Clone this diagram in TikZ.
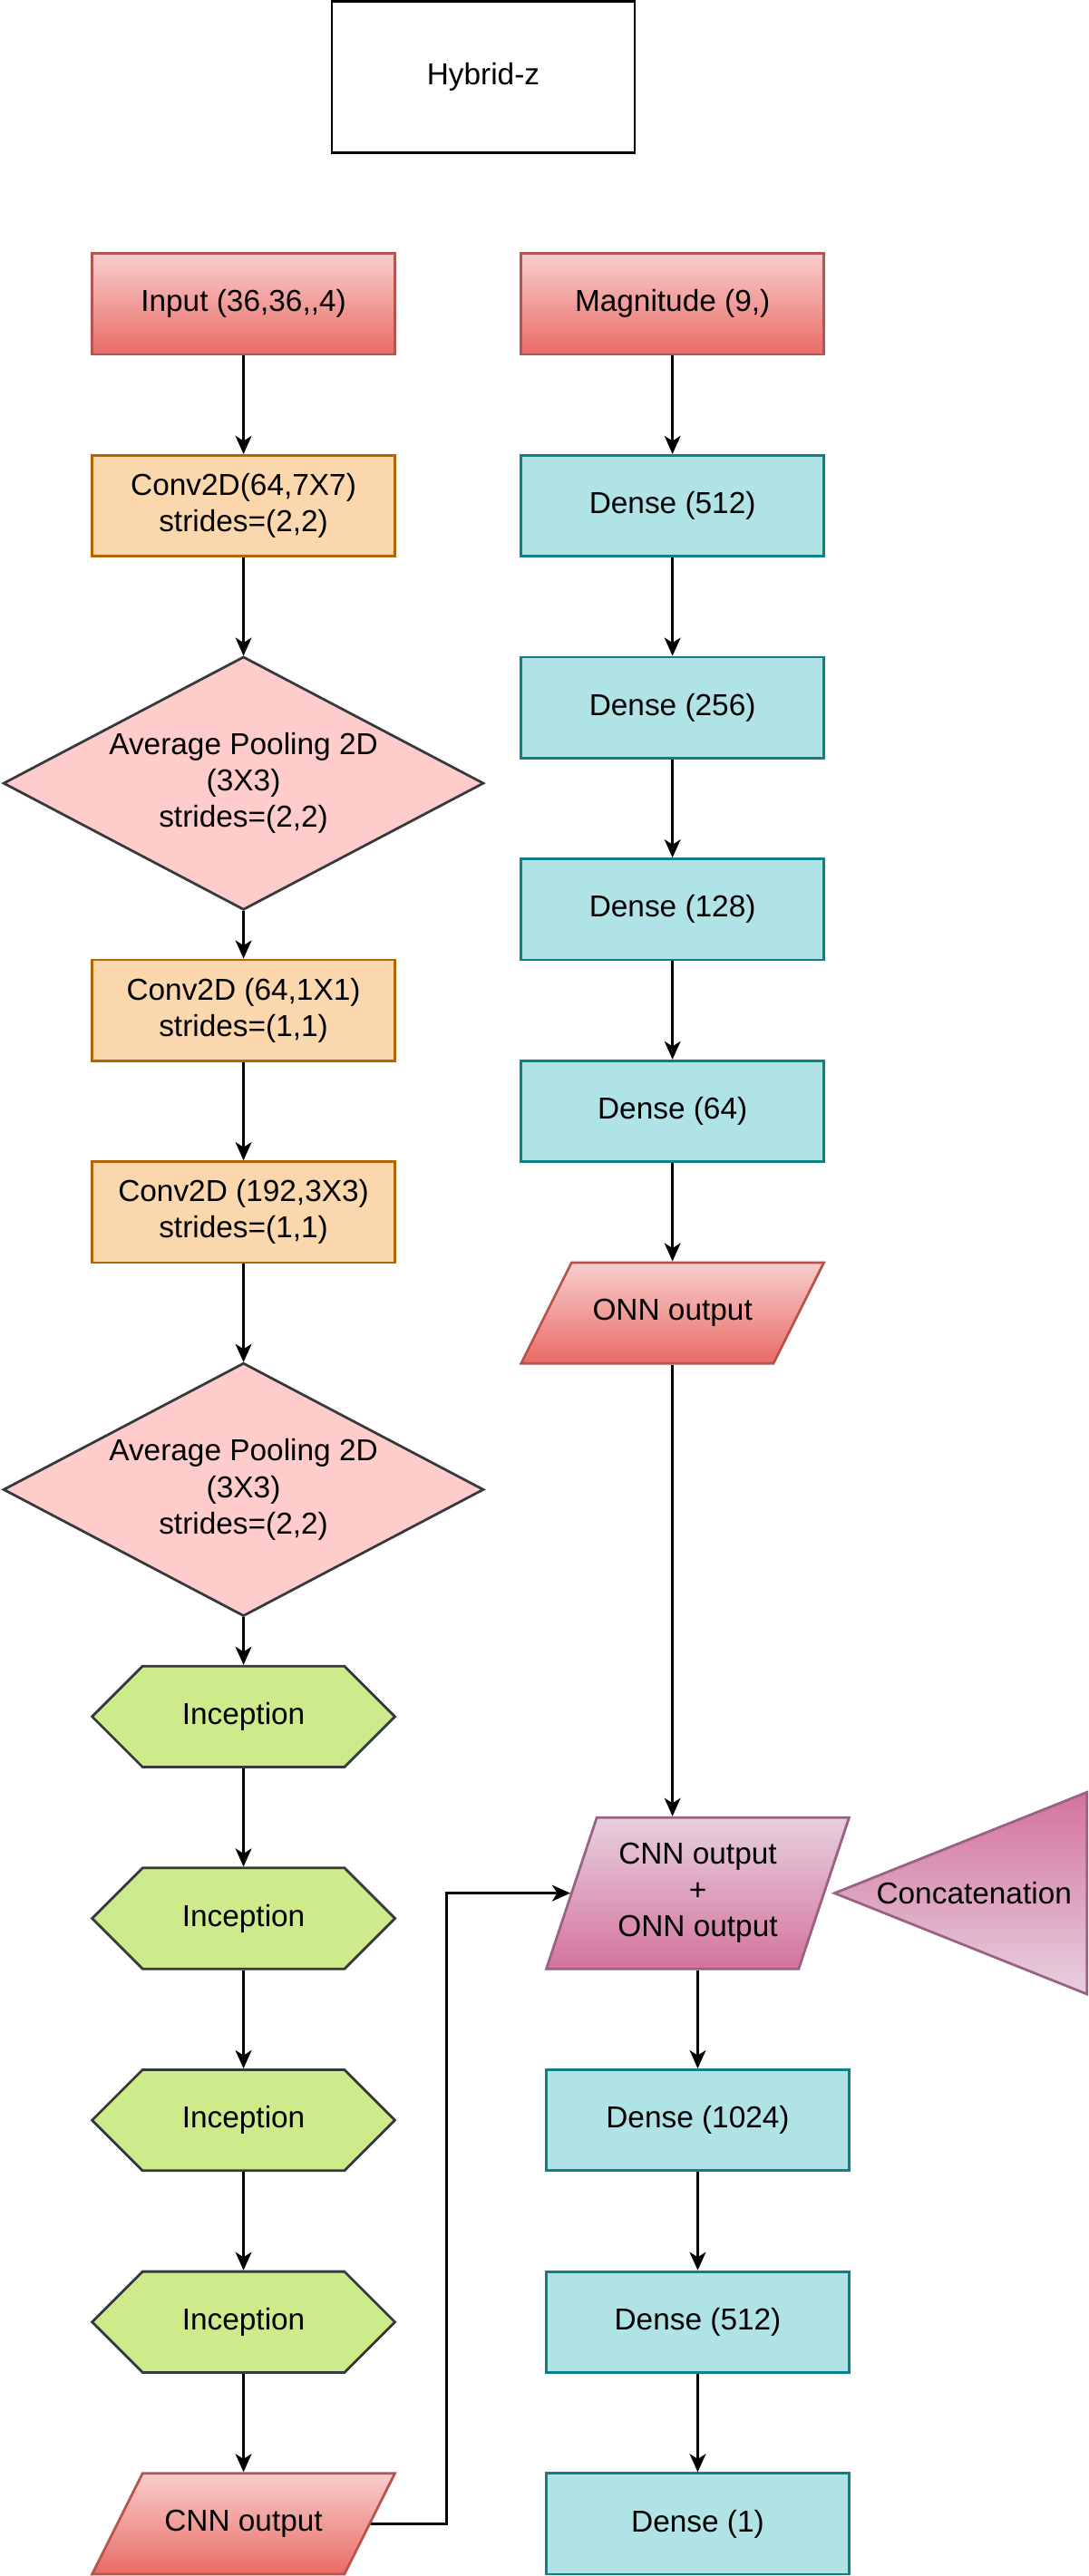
\documentclass[tikz,border=0pt]{standalone}
\usepackage{fontspec}
\setmainfont{Liberation Sans}
\usetikzlibrary{arrows.meta}

\definecolor{inputtop}{HTML}{F8CECC}
\definecolor{inputbot}{HTML}{EA6B66}
\definecolor{inputline}{HTML}{B85450}
\definecolor{convfill}{HTML}{FAD7AC}
\definecolor{convline}{HTML}{B46504}
\definecolor{poolfill}{HTML}{FFCCCC}
\definecolor{darkline}{HTML}{36393D}
\definecolor{incfill}{HTML}{CDEB8B}
\definecolor{densefill}{HTML}{B0E3E6}
\definecolor{denseline}{HTML}{0E8088}
\definecolor{mergetop}{HTML}{E6D0DE}
\definecolor{mergebot}{HTML}{D5739D}
\definecolor{mergeline}{HTML}{996185}

\newcommand{\boxfont}{\fontsize{9}{10.8}\selectfont}

\tikzset{every picture/.style={line width=0.75pt},
  blk/.style={minimum width=90pt, minimum height=30pt, inner sep=0pt, align=center, font=\boxfont},
  inputbox/.style={blk, draw=inputline, top color=inputtop, bottom color=inputbot},
  convbox/.style={blk, draw=convline, fill=convfill},
  densebox/.style={blk, draw=denseline, fill=densefill},
  poolshape/.style={draw=darkline, fill=poolfill},
  incshape/.style={draw=darkline, fill=incfill},
  outshape/.style={draw=inputline, top color=inputtop, bottom color=inputbot},
  mergeshape/.style={draw=mergeline, top color=mergetop, bottom color=mergebot},
  concatshape/.style={draw=mergeline, top color=mergebot, bottom color=mergetop},
  arr/.style={-{Stealth[length=5.4pt, width=4.8pt, inset=1.5pt]}}
}

\begin{document}
\begin{tikzpicture}[x=0.75pt,y=0.75pt,yscale=-1,xscale=1]
\useasboundingbox (0,0) rectangle (431.2,1021.2);

%Shape: Diamond [id:pool1]
\draw[poolshape] (96.5,260.5) -- (191.5,310.5) -- (96.5,360.5) -- (1.5,310.5) -- cycle ;
%Shape: Diamond [id:pool2]
\draw[poolshape] (96.5,540.5) -- (191.5,590.5) -- (96.5,640.5) -- (1.5,590.5) -- cycle ;
%Shape: Hexagon [id:inc1]
\draw[incshape] (36.5,680.5) -- (56.5,660.5) -- (136.5,660.5) -- (156.5,680.5) -- (136.5,700.5) -- (56.5,700.5) -- cycle ;
%Shape: Hexagon [id:inc2]
\draw[incshape] (36.5,760.5) -- (56.5,740.5) -- (136.5,740.5) -- (156.5,760.5) -- (136.5,780.5) -- (56.5,780.5) -- cycle ;
%Shape: Hexagon [id:inc3]
\draw[incshape] (36.5,840.5) -- (56.5,820.5) -- (136.5,820.5) -- (156.5,840.5) -- (136.5,860.5) -- (56.5,860.5) -- cycle ;
%Shape: Hexagon [id:inc4]
\draw[incshape] (36.5,920.5) -- (56.5,900.5) -- (136.5,900.5) -- (156.5,920.5) -- (136.5,940.5) -- (56.5,940.5) -- cycle ;
%Shape: Parallelogram [id:cnnout]
\draw[outshape] (36.5,1020.5) -- (56.5,980.5) -- (156.5,980.5) -- (136.5,1020.5) -- cycle ;
%Shape: Parallelogram [id:onnout]
\draw[outshape] (206.5,540.5) -- (226.5,500.5) -- (326.5,500.5) -- (306.5,540.5) -- cycle ;
%Shape: Parallelogram [id:merged]
\draw[mergeshape] (216.5,780.5) -- (236.5,720.5) -- (336.5,720.5) -- (316.5,780.5) -- cycle ;
%Shape: Triangle [id:concat]
\draw[concatshape] (330.7,750.5) -- (430.7,710.5) -- (430.7,790.5) -- cycle ;

% Text Node
\node[blk, draw, minimum height=45pt] (title) at (191.5,30.5) {Hybrid-z};
% Left column
\node[inputbox] (input) at (96.5,120.5) {Input (36,36,{},4)};
\node[convbox] (conv1) at (96.5,200.5) {Conv2D(64,7X7)\\strides=(2,2)};
\node[blk, minimum width=142.5pt, minimum height=75pt] (pool1) at (96.5,310.5) {Average Pooling 2D\\(3X3)\\strides=(2,2)};
\node[convbox] (conv2) at (96.5,400.5) {Conv2D (64,1X1)\\strides=(1,1)};
\node[convbox] (conv3) at (96.5,480.5) {Conv2D (192,3X3)\\strides=(1,1)};
\node[blk, minimum width=142.5pt, minimum height=75pt] (pool2) at (96.5,590.5) {Average Pooling 2D\\(3X3)\\strides=(2,2)};
\node[blk] (inc1) at (96.5,680.5) {Inception};
\node[blk] (inc2) at (96.5,760.5) {Inception};
\node[blk] (inc3) at (96.5,840.5) {Inception};
\node[blk] (inc4) at (96.5,920.5) {Inception};
\node[blk] (cnnout) at (96.5,1000.5) {CNN output};
% Right column
\node[inputbox] (mag) at (266.5,120.5) {Magnitude (9,)};
\node[densebox] (d512) at (266.5,200.5) {Dense (512)};
\node[densebox] (d256) at (266.5,280.5) {Dense (256)};
\node[densebox] (d128) at (266.5,360.5) {Dense (128)};
\node[densebox] (d64) at (266.5,440.5) {Dense (64)};
\node[blk] (onnout) at (266.5,520.5) {ONN output};
\node[blk, minimum height=45pt] (merged) at (276.5,750.5) {CNN output\\+\\ONN output};
\node[blk, minimum width=75pt, minimum height=60pt] (concat) at (386,750.5) {Concatenation};
\node[densebox] (d1024) at (276.5,840.5) {Dense (1024)};
\node[densebox] (d512b) at (276.5,920.5) {Dense (512)};
\node[densebox] (d1) at (276.5,1000.5) {Dense (1)};

%Straight Lines
\draw[arr] (input) -- (conv1);
\draw[arr] (conv1) -- (pool1);
\draw[arr] (pool1) -- (conv2);
\draw[arr] (conv2) -- (conv3);
\draw[arr] (conv3) -- (pool2);
\draw[arr] (pool2) -- (inc1);
\draw[arr] (inc1) -- (inc2);
\draw[arr] (inc2) -- (inc3);
\draw[arr] (inc3) -- (inc4);
\draw[arr] (inc4) -- (cnnout);
\draw[arr] (mag) -- (d512);
\draw[arr] (d512) -- (d256);
\draw[arr] (d256) -- (d128);
\draw[arr] (d128) -- (d64);
\draw[arr] (d64) -- (onnout);
\draw[arr] (onnout.south) -- (onnout.south |- merged.north);
\draw[arr] ([xshift=-7.5pt]cnnout.east) -- ++(30,0) |- ([xshift=7.5pt]merged.west);
\draw[arr] (merged) -- (d1024);
\draw[arr] (d1024) -- (d512b);
\draw[arr] (d512b) -- (d1);

\end{tikzpicture}
\end{document}
